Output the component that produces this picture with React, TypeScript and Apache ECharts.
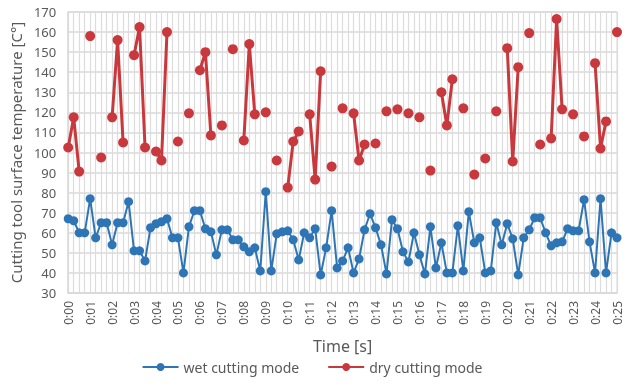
import React, { useEffect, useRef } from "react";
import * as echarts from "echarts";

const secondLabels = [
  "0:00", "0:01", "0:02", "0:03", "0:04", "0:05", "0:06", "0:07", "0:08", "0:09",
  "0:10", "0:11", "0:12", "0:13", "0:14", "0:15", "0:16", "0:17", "0:18", "0:19",
  "0:20", "0:21", "0:22", "0:23", "0:24", "0:25",
];

// samples every 0.25 s
const wetValues = [
  67, 66, 60, 60, 77, 57.5, 65, 65, 54, 65,
  65, 75.5, 51, 51, 46, 62.5, 64.5, 65.5, 67, 57.5,
  57.5, 40, 63, 71, 71, 62, 60.5, 49, 61.5, 61.5,
  56.5, 56.5, 53, 50.5, 52.5, 41, 80.5, 41, 59.5, 60.5,
  61, 56.5, 46.5, 60, 57.5, 62, 39, 52.5, 71, 42.5,
  46, 52.5, 40, 47, 61.5, 69.5, 62.5, 54, 39.5, 66.5,
  62, 50.5, 45.5, 60, 49, 39.5, 63, 42.5, 55, 40,
  40, 63.5, 41, 70.5, 55, 57.5, 40, 41, 65, 54,
  64.5, 57, 39, 57.5, 61.5, 67.5, 67.5, 60, 53.5, 55,
  55.5, 62, 61, 61, 76.5, 55.5, 40, 77, 40, 60,
  57.5,
];

const dryValues = [
  102.5, 117.5, 90.5, null, 158, null, 97.5, null, 117.5, 156,
  105, null, 148.5, 162.5, 102.5, null, 100.5, 96, 160, null,
  105.5, null, 119.5, null, 141, 150, 108.5, null, 113.5, null,
  151.5, null, 106, 154, 119, null, 120, null, 96, null,
  82.5, 105.5, 110.5, null, 119, 86.5, 140.5, null, 93, null,
  122, null, 119.5, 96, 104, null, 104.5, null, 120.5, null,
  121.5, null, 119.5, null, 117.5, null, 91, null, 130, 113.5,
  136.5, null, 122, null, 89, null, 97, null, 120.5, null,
  152, 95.5, 142.5, null, 159.5, null, 104, null, 107, 166.5,
  121.5, null, 119, null, 108, null, 144.5, 102, 115.5, null,
  160,
];

const categories = wetValues.map((_, i) => String(i));

const FONT = "'Noto Sans', sans-serif";
const GRAY = "#595959";
const BLUE = "#2E75B6";
const RED = "#C9383C";

export default function App() {
  const ref = useRef<HTMLDivElement>(null);

  useEffect(() => {
    if (!ref.current) return;
    const chart = echarts.init(ref.current, undefined, { renderer: "svg" });
    chart.setOption({
      animation: false,
      textStyle: { fontFamily: FONT },
      grid: {
        left: 68,
        right: 7,
        top: 12,
        bottom: 90,
        show: true,
        borderColor: "#d9d9d9",
        borderWidth: 1,
      },
      legend: {
        bottom: 4,
        left: "center",
        itemWidth: 36,
        itemHeight: 10,
        itemGap: 28,
        textStyle: { fontSize: 14, color: GRAY, fontFamily: FONT },
        data: ["wet cutting mode", "dry cutting mode"],
      },
      xAxis: {
        type: "category",
        data: categories,
        boundaryGap: false,
        name: "Time [s]",
        nameLocation: "middle",
        nameGap: 45,
        nameTextStyle: { fontSize: 16, color: GRAY, fontFamily: FONT },
        axisLine: { lineStyle: { color: "#d9d9d9", width: 1.5 } },
        axisTick: { show: false },
        axisLabel: {
          interval: 3,
          rotate: 90,
          fontSize: 12,
          color: GRAY,
          margin: 8,
          formatter: (_v: string, i: number) => secondLabels[i / 4] ?? "",
        },
        splitLine: {
          show: true,
          interval: 0,
          lineStyle: { color: "#dcdcdc", width: 1.2 },
        },
      },
      yAxis: {
        type: "value",
        min: 30,
        max: 170,
        interval: 10,
        name: "Cutting tool surface temperature [C°]",
        nameLocation: "middle",
        nameGap: 42,
        nameTextStyle: { fontSize: 15, color: GRAY, fontFamily: FONT },
        axisLine: { show: true, lineStyle: { color: "#d9d9d9", width: 1.5 } },
        axisTick: { show: false },
        axisLabel: { fontSize: 13, color: GRAY, margin: 12 },
        splitLine: { show: true, lineStyle: { color: "#d9d9d9", width: 1.5 } },
      },
      series: [
        {
          name: "wet cutting mode",
          type: "line",
          data: wetValues,
          symbol: "circle",
          symbolSize: 9,
          showAllSymbol: true,
          lineStyle: { color: BLUE, width: 2 },
          itemStyle: { color: BLUE },
        },
        {
          name: "dry cutting mode",
          type: "line",
          data: dryValues,
          symbol: "circle",
          symbolSize: 10,
          showAllSymbol: true,
          connectNulls: false,
          lineStyle: { color: RED, width: 3 },
          itemStyle: { color: RED },
        },
      ],
    });
    return () => chart.dispose();
  }, []);

  return (
    <div
      ref={ref}
      style={{ position: "fixed", left: 0, top: 0, width: 624, height: 383 }}
    />
  );
}
